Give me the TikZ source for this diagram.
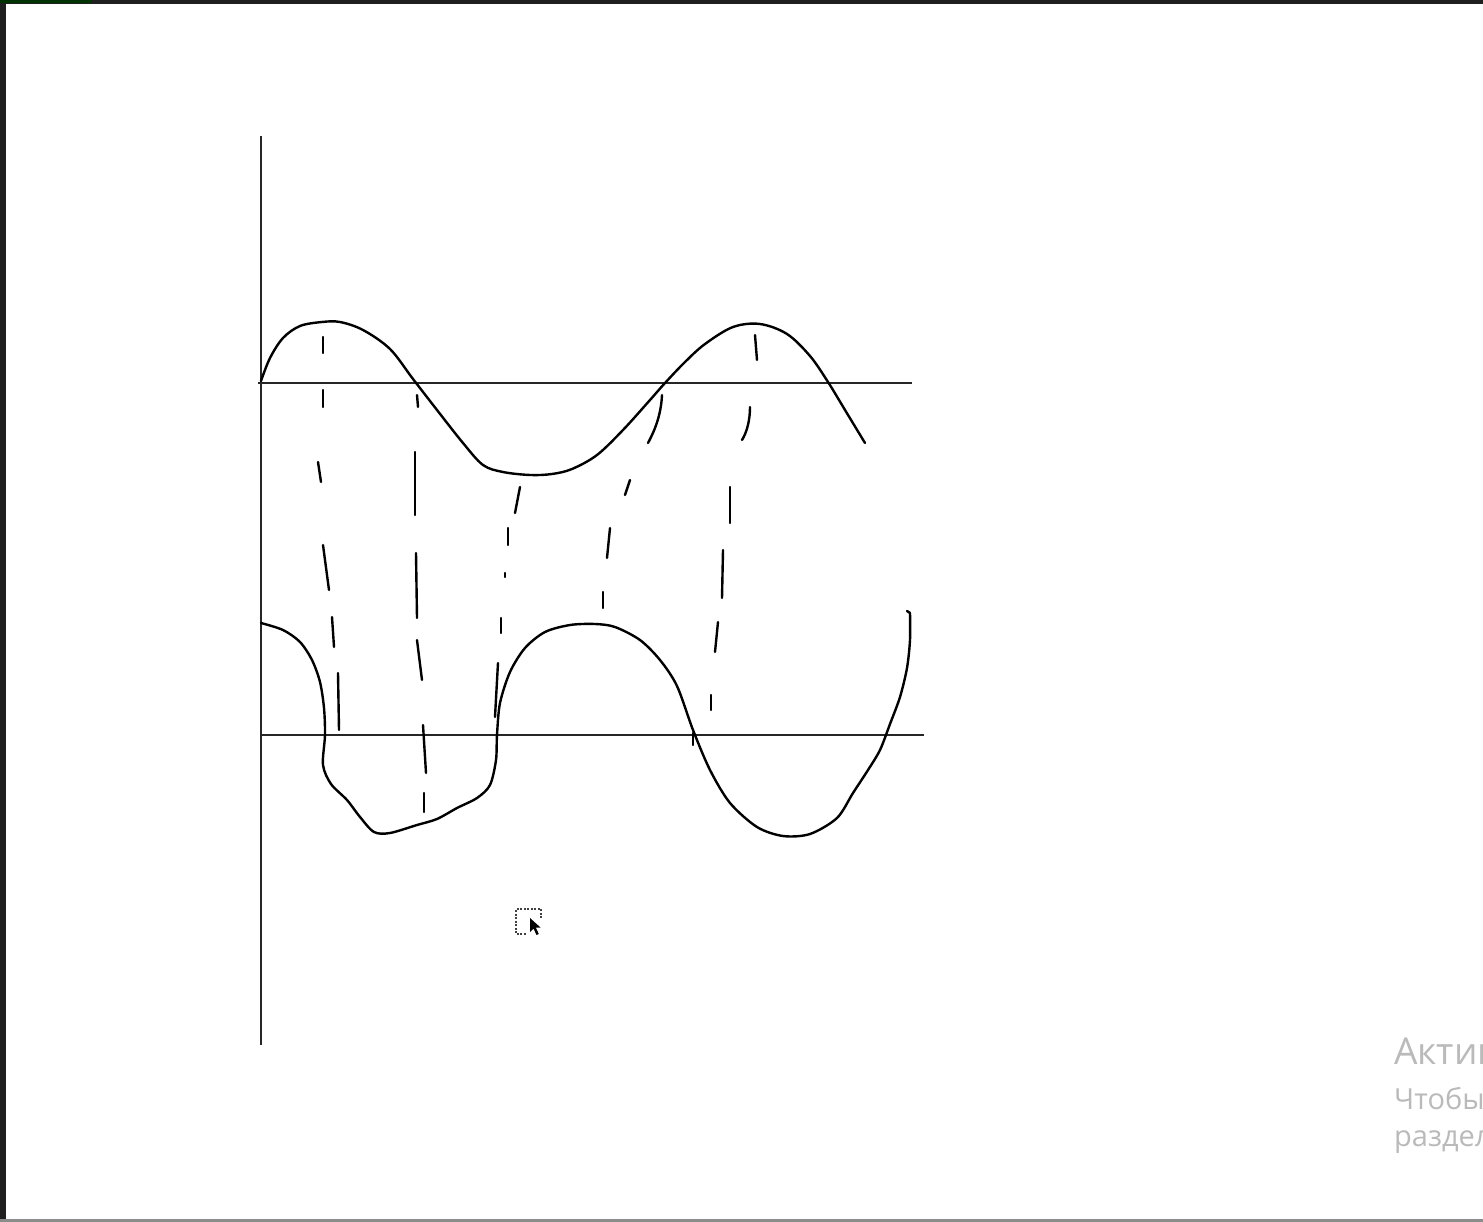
\documentclass[tikz,border=0pt]{standalone}
\usepackage{fontspec}
\newfontfamily\wmfont{Open Sans}
\usetikzlibrary{calc}

\begin{document}
\begin{tikzpicture}[
		x=1pt, y=-1pt,
		axisline/.style={draw=black!85, line width=2.4pt},
		wave/.style={draw=black, line width=2.4pt, line join=round, line cap=round},
		guide/.style={draw=black, line width=2.4pt, line cap=round},
		wmark/.style={inner sep=0pt, anchor=base west, text=black!27}
		]
		
		% ==========================================
		% 0. SCREEN FRAME
		% ==========================================
		\useasboundingbox (0,0) rectangle (1483,1222);
		\fill[white] (0,0) rectangle (1483,1222);
		\fill[black!88] (0,0) rectangle (6,1222);
		\fill[black!88] (0,0) rectangle (1483,4);
		\fill[green!20!black] (0,0) rectangle (92,3);
		\fill[black!45] (0,1219) rectangle (1483,1222);
		
		% ==========================================
		% 1. AXES
		% ==========================================
		\draw[axisline] (261,136) -- (261,1045);
		\draw[axisline] (258,383) -- (912,383);
		\draw[axisline] (261,735) -- (924,735);
		
		% ==========================================
		% 2. THE TWO WAVES
		% ==========================================
		% upper wave
		\draw[wave] plot[smooth, tension=0.55] coordinates {
			(261,381) (270,358) (283,338) (300,326) (322,322) (340,322)
			(363,330) (390,349) (413,379) (437,410) (463,443) (483,465)
			(503,472) (530,475) (552,474) (572,469) (597,455) (623,430)
			(650,400) (665,383) (685,362) (705,344) (733,327) (760,324)
			(787,334) (810,356) (828,382) (845,410) (865,443)};
		% lower wave (drawn by hand, a little shaky)
		\draw[wave] plot[smooth, tension=0.5] coordinates {
			(261,623) (283,630) (300,642) (312,660) (320,682) (324,708)
			(325,735) (323,765) (331,784) (347,800) (360,817) (374,832)
			(390,833) (417,825) (437,819) (457,808) (477,798) (490,785)
			(496,760) (497,735) (500,703) (510,672) (525,648) (545,632)
			(570,625) (595,624) (615,627) (640,640) (660,660) (677,686)
			(693,730) (710,770) (730,803) (757,827) (783,836) (810,834)
			(837,818) (853,793) (868,770) (880,750) (890,724) (900,697)
			(907,668) (910,640) (910,613)};
		\draw[guide] (910,613) -- (907,611);
		
		% ==========================================
		% 3. DASHED CONNECTIONS BETWEEN THE WAVES
		% ==========================================
		% Data format: x start / y start / x end / y end
		\foreach \xa/\ya/\xb/\yb in {
			% first column
			323/337/323/353, 323/390/323/407, 318/462/321/482,
			323/545/329/590, 332/617/334/647, 338/673/339/730,
			% second column
			417/395/418/407, 415/452/415/515, 416/553/417/618,
			417/640/422/680, 423/725/426/773, 424/793/424/812,
			% third column
			520/487/515/513, 508/528/508/545, 505/573/505/577,
			501/618/501/633, 498/663/495/717,
			% fourth column
			630/480/625/495, 610/528/607/558, 603/592/603/608,
			% fifth column
			755/335/757/360, 730/487/730/523, 723/550/722/598,
			718/622/715/652, 711/695/711/710, 693/733/693/745%
		} {
			\draw[guide] (\xa,\ya) -- (\xb,\yb);
		}
		% the curved pieces
		\draw[guide] (662,395) .. controls (661,415) and (655,430) .. (648,443);
		\draw[guide] (750,407) .. controls (750,420) and (747,432) .. (742,440);
		
		% ==========================================
		% 4. MOUSE CURSOR
		% ==========================================
		\draw[black!75, line width=1.5pt, dash pattern=on 2pt off 1.5pt]
		(541,918) -- (541,909) -- (516,909) -- (516,934) -- (527,934);
		\fill[black] (530,918) -- (530,932) -- (533.5,928.5) -- (536.5,935)
		-- (538.8,934) -- (535.8,927.5) -- (540.5,927.5) -- cycle;
		
		% ==========================================
		% 5. WINDOWS WATERMARK (cut at the right edge)
		% ==========================================
		\begin{scope}
			\clip (0,0) rectangle (1483,1222);
			\node[wmark, font=\wmfont\fontsize{37}{42}\selectfont] (wm-title) at (1394,1064) {Активация Windows};
			\node[wmark, font=\wmfont\fontsize{29}{34}\selectfont] (wm-line) at (1394,1109) {Чтобы активировать Windows, перейдите в};
			\node[wmark, font=\wmfont\fontsize{29}{34}\selectfont] (wm-last) at (1394,1146) {раздел "Параметры".};
		\end{scope}
		
	\end{tikzpicture}
\end{document}
